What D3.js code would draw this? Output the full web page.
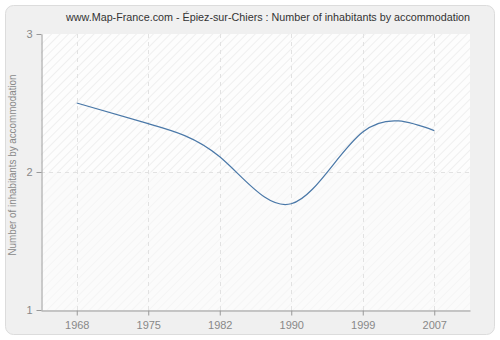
<!DOCTYPE html>
<html><head><meta charset="utf-8">
<script src="https://cdn.jsdelivr.net/npm/d3@7"></script>
<style>body{margin:0;background:#fff}svg{display:block}text{font-family:"Liberation Sans",Arial,sans-serif}</style>
</head><body><svg id="c" width="500" height="340"></svg>
<script>
const years = ["1968","1975","1982","1990","1999","2007"];
const values = [2.5, 2.35, 2.11, 1.77, 2.29, 2.30];
const yTicks = [1, 2, 3];
const title = "www.Map-France.com - Épiez-sur-Chiers : Number of inhabitants by accommodation";
const yLabel = "Number of inhabitants by accommodation";

const svg = d3.select("#c");
const m = {l:41, r:470, t:34, b:310};
const defs = svg.append("defs");
const p1 = defs.append("pattern").attr("id","h1").attr("patternUnits","userSpaceOnUse").attr("width",6).attr("height",6).attr("patternTransform","rotate(45)");
p1.append("rect").attr("width",6).attr("height",6).attr("fill","#fdfdfd");
p1.append("line").attr("x1",0).attr("y1",0).attr("x2",0).attr("y2",6).attr("stroke","#ebebeb").attr("stroke-width",1.5);
const p2 = defs.append("pattern").attr("id","h2").attr("patternUnits","userSpaceOnUse").attr("width",6).attr("height",6).attr("patternTransform","rotate(45)");
p2.append("rect").attr("width",6).attr("height",6).attr("fill","#fbfbfb");
p2.append("line").attr("x1",0).attr("y1",0).attr("x2",0).attr("y2",6).attr("stroke","#f3f3f3").attr("stroke-width",1.5);

svg.append("rect").attr("x",5.5).attr("y",5.5).attr("width",489).attr("height",329).attr("rx",8)
  .attr("fill","#f0f0f0").attr("stroke","#dcdcdc");

const x = d3.scalePoint().domain(years).range([m.l, m.r]).padding(0.5);
const y = d3.scaleLinear().domain([1,3]).range([m.b, m.t]);

svg.append("rect").attr("x",m.l).attr("y",y(3)).attr("width",m.r-m.l).attr("height",y(2)-y(3)).attr("fill","url(#h1)");
svg.append("rect").attr("x",m.l).attr("y",y(2)).attr("width",m.r-m.l).attr("height",y(1)-y(2)).attr("fill","url(#h2)");

const g = svg.append("g");
g.selectAll(".vg").data(years).join("line")
  .attr("x1",d=>Math.round(x(d))+0.5).attr("x2",d=>Math.round(x(d))+0.5)
  .attr("y1",m.t).attr("y2",m.b).attr("stroke","#e2e2e2").attr("stroke-dasharray","4,4");
g.selectAll(".hg").data([2]).join("line")
  .attr("x1",m.l).attr("x2",m.r).attr("y1",d=>Math.round(y(d))+0.5).attr("y2",d=>Math.round(y(d))+0.5)
  .attr("stroke","#e2e2e2").attr("stroke-dasharray","4,4");

svg.append("path").datum(values).attr("d", d3.line().x((d,i)=>x(years[i])).y(d=>y(d)).curve(d3.curveNatural))
  .attr("fill","none").attr("stroke","#4a78a8").attr("stroke-width",1.2);

const xa = svg.append("g").attr("transform",`translate(0,${m.b+0.5})`)
  .call(d3.axisBottom(x).tickSize(5).tickSizeOuter(0).tickPadding(6));
const ya = svg.append("g").attr("transform",`translate(${m.l+0.5},0)`)
  .call(d3.axisLeft(y).tickValues(yTicks).tickFormat(d3.format("d")).tickSize(5).tickSizeOuter(0).tickPadding(4));
[xa,ya].forEach(a=>{
  a.select(".domain").attr("stroke","#999");
  a.selectAll(".tick line").attr("stroke","#999");
  a.selectAll("text").attr("fill","#888").attr("font-size",11).attr("font-family","'Liberation Sans',Arial,sans-serif");
});
svg.append("text").attr("x",268).attr("y",21).attr("text-anchor","middle").attr("font-size",11.5).attr("fill","#333")
  .attr("textLength",404).attr("lengthAdjust","spacingAndGlyphs").text(title);
svg.append("text").attr("transform",`translate(16,165) rotate(-90)`).attr("text-anchor","middle").attr("font-size",11).attr("fill","#888")
  .attr("textLength",181).attr("lengthAdjust","spacingAndGlyphs").text(yLabel);
</script></body></html>
